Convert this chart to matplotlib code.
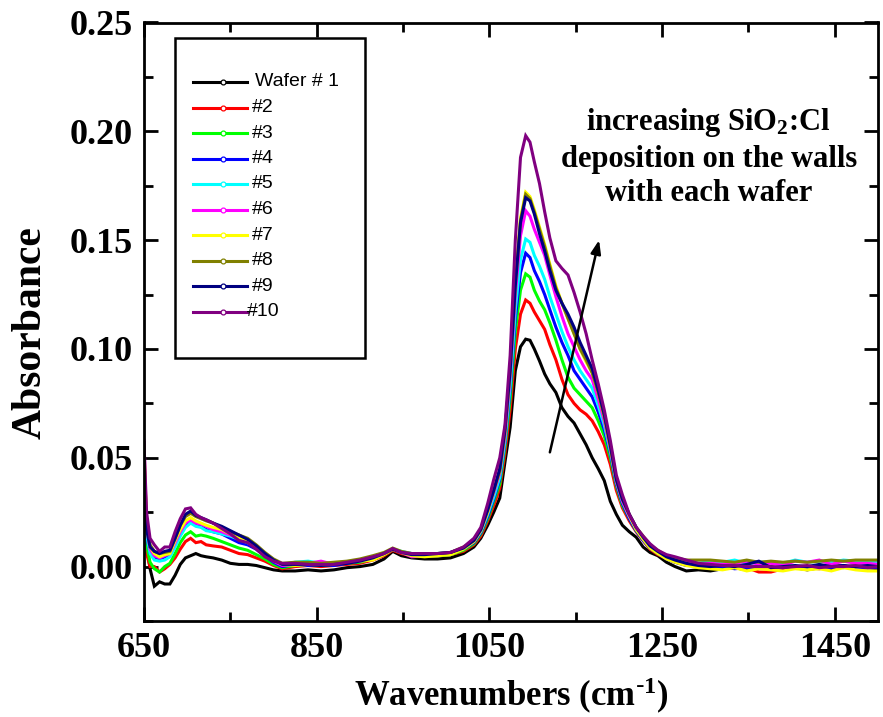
import numpy as np
import matplotlib
matplotlib.use("Agg")
import matplotlib.pyplot as plt
from matplotlib.lines import Line2D
from matplotlib.patches import Rectangle
from matplotlib.ticker import MultipleLocator, FixedLocator, FormatStrFormatter

plt.rcParams["font.family"] = ["Liberation Serif", "DejaVu Serif"]
plt.rcParams["mathtext.default"] = "regular"

# Wavenumber grid (cm^-1)
wavenumber = [
    650, 653, 657, 662, 668, 674, 680, 686, 692, 698, 704, 710, 716, 722,
    730, 740, 750, 760, 770, 780, 790, 800, 810,
    825, 840, 855, 870, 885, 900, 915, 928, 938, 948, 960, 975, 990, 1005, 1020,
    1032, 1040, 1048, 1055, 1062, 1068, 1074, 1080, 1086, 1092,
    1097, 1102, 1108, 1114, 1120, 1127, 1134, 1141, 1148, 1155, 1162, 1169, 1176, 1183, 1190, 1197,
    1204, 1212, 1220, 1228, 1236, 1245, 1255, 1265, 1278,
    1292, 1306, 1320, 1334, 1348, 1362, 1376, 1390, 1404, 1418, 1432, 1446, 1460, 1474, 1488, 1500,
]

# Absorbance of the chamber wall, in milli-absorbance units
wafer_01 = [
    35, 10, -1, -9, -7, -8, -8, -4, 1, 4, 5, 6, 5, 4.5,
    4, 3, 1.5, 1, 1, 0.5, -0.5, -1.5, -2,
    -2, -1.5, -2, -1.5, -0.5, 0, 1, 3.5, 7, 5, 4, 3.5, 3.5, 4, 6,
    9, 13, 19, 25, 31.5, 48, 64, 90, 101, 104.5,
    104, 100, 94.5, 88.5, 84, 80, 73, 69, 66, 61, 56, 50, 45, 39.5, 30, 24,
    19, 16, 13.5, 9, 6.5, 5, 2, 0, -2,
    -1.5, -2, -1, -0.5, -1.5, -0.5, 0, -1, -0.5, -1.5, -0.5, -1, 0, -1, -0.5, -1,
]
wafer_02 = [
    15, 6, 0, 0, -2.5, -1, 1, 4, 8, 11.5, 13, 11, 11.5, 10,
    9.5, 9, 7.5, 6, 5.5, 4, 2.5, 0.5, -1,
    0, 0.5, 0, 0.5, 1, 1.5, 3, 5, 7.5, 6, 5, 5, 5, 5.5, 7,
    10, 14, 21, 28, 36, 52, 72, 100, 116, 122.5,
    121, 117, 113, 109, 102, 95, 86, 79, 75, 72, 70, 67, 62, 56, 47, 35,
    27, 21, 16, 12, 8, 5.5, 4, 2, 1,
    0, -0.5, 0.5, -0.5, -0.5, -2.5, -2.5, -1, 0, -0.5, -1, 0, 0.5, -1, 0, -0.5,
]
wafer_03 = [
    25, 10, 2, -1, -2.5, 0, 1.5, 6, 11, 14.5, 16, 14, 14.5, 14,
    13, 11.5, 10, 8.5, 7.5, 5.5, 3.5, 1, -0.5,
    0.5, 1, 0.5, 1, 1.5, 2, 3.5, 5.5, 8, 6.5, 5.5, 5, 5, 5.5, 7.5,
    10.5, 15, 22, 30, 38, 55, 77, 108, 127, 134.5,
    133, 127, 122, 118, 112, 104, 95, 87, 82, 79, 76, 73, 67, 60, 50, 37,
    28, 22, 16.5, 12.5, 8.5, 6, 4, 2.5, 1.5,
    0.5, 0, -1, 0.5, -0.5, 0, -1, 0.5, 0, -0.5, 0.5, 0, -0.5, 0.5, 0, 0,
]
wafer_04 = [
    34, 14, 6, 4, 3, 4.5, 5, 10, 15, 19, 21, 19, 18.5, 17,
    16, 15, 13, 11, 10, 8, 5, 2, 0,
    1, 0.5, 1, 0.5, 1.5, 2.5, 4, 6, 8, 6.5, 5.5, 5.5, 5.5, 6, 8,
    11, 15.5, 23, 31, 40, 57, 81, 114, 135, 144,
    142, 136, 131, 125, 118, 110, 103, 97, 90, 86, 82, 78, 71, 63, 52, 38,
    29, 22, 16.5, 12, 8.5, 6, 3.5, 2, 0.5,
    0.5, -0.5, 0, -1, -0.5, 0, -1.5, -0.5, 0, -1, 0, -0.5, 0.5, -1, -0.5, -0.5,
]
wafer_05 = [
    40, 15, 6, 3, 2.5, 3, 4.5, 9, 14, 18, 20, 18.5, 18, 16.5,
    16, 15, 14, 12.5, 11, 9, 6, 3, 1,
    2, 2.5, 1.5, 1.5, 2, 3, 4.5, 6, 8, 7, 6, 6, 6, 6.5, 8.5,
    11.5, 16, 24, 32, 41, 58, 83, 118, 141, 150.5,
    149, 143, 138, 132, 124, 116, 108, 101, 95, 90, 86, 82, 74, 65, 53, 39,
    30, 23, 17, 13, 9, 6.5, 4.5, 3, 2,
    1.5, 2.5, 2, 3, 1.5, 2, 2, 1.5, 3, 2, 2.5, 2, 3, 2.5, 2, 2,
]
wafer_06 = [
    58, 18, 8, 5, 4, 5, 6, 11, 16, 20, 21.5, 20, 19.5, 18.5,
    17, 16, 14.5, 13, 11.5, 9, 5.5, 2.5, 0.5,
    1, 1.5, 2.5, 1, 2, 2.5, 4, 6, 8, 6.5, 4.5, 5, 5.5, 6.5, 8.5,
    11.5, 16.5, 25, 34, 43, 60, 87, 125, 152, 163.5,
    161, 155, 149, 143, 134, 124, 115, 107, 101, 95, 90, 86, 77, 67, 54, 39,
    30, 23, 17.5, 13, 9.5, 7, 5, 3.5, 2.5,
    1, 1.5, 1, 1.5, 2.5, 1, 1.5, 0.5, 2.5, 2, 3, 1, 2.5, 1.5, 1.5, 1,
]
wafer_07 = [
    55, 18, 9, 6, 4.5, 5.5, 6, 12, 17, 21, 22.5, 21, 20, 19,
    18, 17, 15, 13.5, 12, 9.5, 6, 3, 1,
    0.5, 1, 1, 1.5, 2, 2.5, 3, 5.5, 8, 6.5, 5, 4.5, 5, 5.5, 8,
    11.5, 16.5, 25, 35, 44, 62, 90, 130, 160, 172,
    170, 164, 156, 148, 139, 129, 121, 114, 107, 100, 94, 89, 80, 69, 55, 40,
    31, 23.5, 17, 12.5, 8.5, 6, 3.5, 2, 0.5,
    -0.5, -1, -1.5, -0.5, -2, -1, -1.5, -2, -1, -1.5, -1, -2, -0.5, -1.5, -2, -2,
]
wafer_08 = [
    51, 20, 10, 7, 6, 6.5, 7, 13, 19, 23, 24.5, 23, 22, 21,
    20, 18, 16, 14.5, 13, 10, 6.5, 3.5, 1.5,
    2, 2, 1.5, 2, 2.5, 3.5, 5, 6.5, 8.5, 7, 6, 6, 6, 6.5, 9,
    12, 17, 26, 35, 44, 62, 90, 130, 159, 171,
    169, 163, 155, 147, 138, 128, 121, 114, 107, 100, 95, 89, 80, 69, 55, 40,
    31, 24, 18, 14, 10, 7.5, 5, 4, 3,
    3, 3, 2.5, 2, 3, 2, 2.5, 2, 2.5, 2, 2.5, 3, 2.5, 3, 3, 3,
]
wafer_09 = [
    39, 17, 9, 7, 6, 7, 7.5, 13, 19, 24, 25.5, 23.5, 22.5, 21.5,
    20, 18.5, 16.5, 14.5, 12.5, 9.5, 6, 3, 1,
    1, 1, 0.5, 1, 1.5, 2.5, 4, 6, 8, 6.5, 5.5, 5.5, 6, 6.5, 8.5,
    12, 17, 26, 35, 45, 63, 90, 129, 158, 169.5,
    168, 162, 153, 145, 136, 127, 121, 116, 110, 103, 97, 91, 81, 70, 56, 40,
    31, 24, 18, 13.5, 9.5, 7, 4.5, 3, 1.5,
    0.5, 0, 0.5, 0, 1, 2.5, -0.5, 0, 0.5, 0, 1, 0, 0.5, 0, 0.5, 0,
]
wafer_10 = [
    57, 25, 13, 10, 7, 9, 9, 16, 22, 26.5, 27, 24, 22.5, 21.5,
    20, 17.5, 15, 12, 11, 8, 4.5, 2.5, 1.5,
    1.5, 1, 1, 1, 2, 3, 4.5, 6, 8.3, 6.5, 6, 6, 6, 6.5, 9,
    13, 18, 29, 40, 50, 65, 97, 150, 188, 198,
    195, 186, 176, 163, 151, 140.5, 137, 134, 126, 117, 107, 95, 84, 72, 58, 42,
    33, 24, 18, 14, 10.5, 7.5, 5.5, 4.5, 3,
    1.5, 1, 0.5, 0.5, 0, 0, 0, -0.5, 0, 0.5, -0.5, 0, 0, 0.5, -0.5, 0,
]

labels = ["Wafer # 1", "#2", "#3", "#4", "#5", "#6", "#7", "#8", "#9", "#10"]
colors = ["#000000", "#ff0000", "#00ff00", "#0000ff", "#00ffff",
          "#ff00ff", "#ffff00", "#808000", "#000080", "#800080"]
spectra = [wafer_01, wafer_02, wafer_03, wafer_04, wafer_05,
           wafer_06, wafer_07, wafer_08, wafer_09, wafer_10]

W, H = 883, 717
fig = plt.figure(figsize=(W / 100, H / 100), dpi=100)
ax = fig.add_axes([144 / W, 1 - 621 / H, (878 - 144) / W, (621 - 22.5) / H])

x = np.array(wavenumber, dtype=float)
for s, c in zip(spectra, colors):
    assert len(s) == len(x)
    ax.plot(x, np.array(s, dtype=float) / 1000.0, color=c, lw=2.2,
            solid_joinstyle="miter")

ax.set_xlim(650, 1500)
ax.set_ylim(-0.025, 0.25)
ax.set_xticks([650, 850, 1050, 1250, 1450])
ax.xaxis.set_minor_locator(FixedLocator([750, 950, 1150, 1350]))
ax.yaxis.set_major_locator(MultipleLocator(0.05))
ax.yaxis.set_minor_locator(MultipleLocator(0.025))
ax.yaxis.set_major_formatter(FormatStrFormatter("%.2f"))

ax.tick_params(which="both", direction="in", top=True, right=True, width=2)
ax.tick_params(which="major", length=10, labelsize=26)
ax.tick_params(axis="y", which="major", pad=8)
ax.tick_params(axis="x", which="major", pad=8)
ax.tick_params(which="minor", length=6.5)
for lab in ax.get_xticklabels() + ax.get_yticklabels():
    lab.set_fontweight("bold")
for sp in ax.spines.values():
    sp.set_linewidth(2)

ax.set_xlabel(r"Wavenumbers (cm$^{\text{-}1}$)", fontsize=25, fontweight="bold")
ax.xaxis.set_label_coords(0.5, (621 - 696) / 598.5)
ax.xaxis.label.set_va("center")
ax.set_ylabel("Absorbance", fontsize=30, fontweight="bold")
ax.yaxis.set_label_coords((31 - 144) / 734, (621 - 333) / 598.5)
ax.yaxis.label.set_va("center")

# Trend arrow and note
ax.annotate("", xy=(1177, 0.150), xytext=(1120, 0.0525),
            arrowprops=dict(arrowstyle="-|>,head_length=0.8,head_width=0.3",
                            color="black", lw=1.8, shrinkA=0, shrinkB=0))
ax.text(1304, 0.188, "increasing SiO$_2$:Cl\ndeposition on the walls\nwith each wafer",
        ha="center", va="center", fontsize=22, fontweight="bold", linespacing=1.25)

# Legend box drawn in pixel units of the figure
def fx(px):
    return px / W

def fy(py):
    return 1 - py / H

fig.patches.append(Rectangle((fx(175), fy(358)), fx(365) - fx(175), fy(38) - fy(358),
                             transform=fig.transFigure, fill=False,
                             edgecolor="black", lw=1.8, zorder=5))
for i, (lab, c) in enumerate(zip(labels, colors)):
    yc = 82 + 25.5 * i
    fig.add_artist(Line2D([fx(193), fx(247)], [fy(yc), fy(yc)], color=c, lw=2.2,
                          transform=fig.transFigure))
    fig.add_artist(Line2D([fx(223)], [fy(yc)], marker="o", markersize=3.5,
                          markerfacecolor="white", markeredgecolor=c,
                          markeredgewidth=0.9, transform=fig.transFigure))
    tx = 247 if lab == "#10" else (255 if i == 0 else 252)
    fig.text(fx(tx), fy(yc), lab, ha="left", va="center", fontsize=14,
             family=["Liberation Sans", "DejaVu Sans"])

fig.savefig("out.png", dpi=100)
